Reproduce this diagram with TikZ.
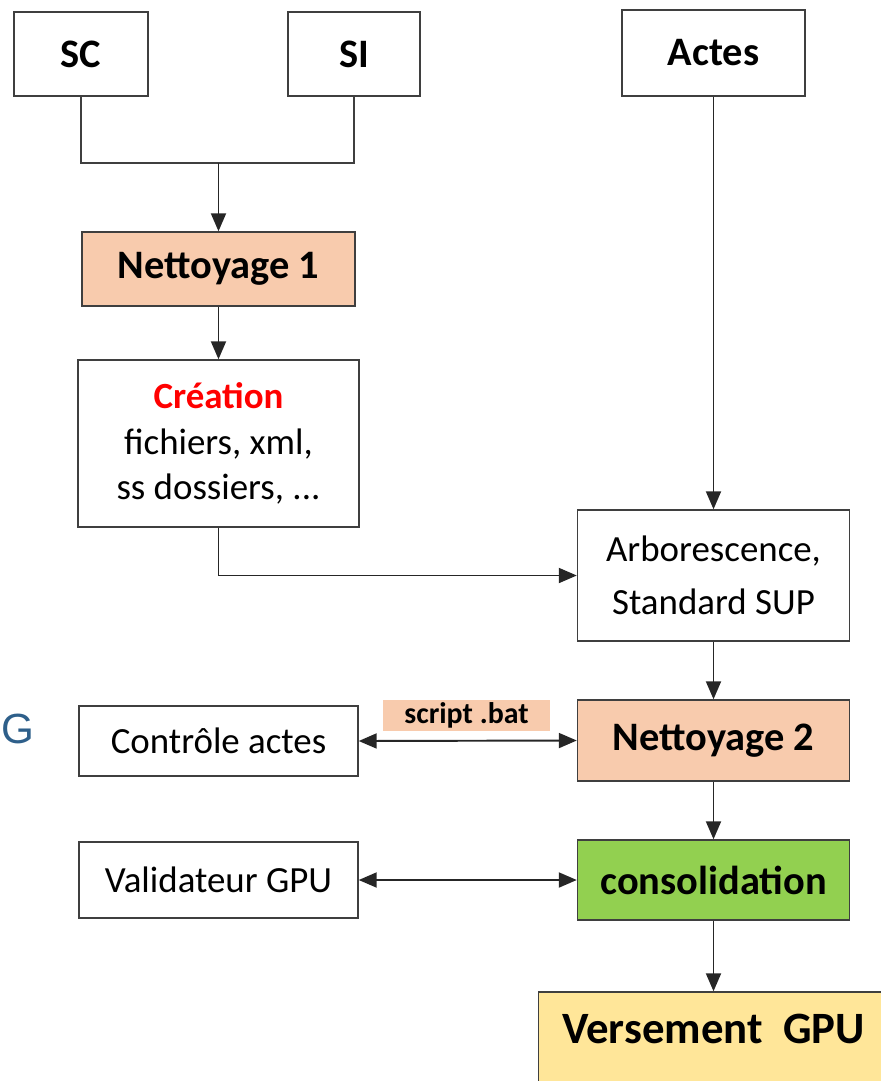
\documentclass[tikz,border=0pt]{standalone}
\usepackage{fontspec}
\setmainfont{Carlito}
\newfontfamily\gfont{Liberation Sans}
\usetikzlibrary{positioning, arrows.meta}

\definecolor{peach}{HTML}{F8CBAD}
\definecolor{leafgreen}{HTML}{92D050}
\definecolor{paleyellow}{HTML}{FFE699}
\definecolor{edgegray}{HTML}{3F3F3F}
\definecolor{wiregray}{HTML}{262626}
\definecolor{slateblue}{HTML}{2E5F8A}

\begin{document}
\begin{tikzpicture}
    [
        on grid,
        node distance=2cm and 2cm,
        block/.style={draw=edgegray, rectangle, line width=0.8pt, align=center, inner sep=0pt, font=\fontsize{21}{30}\selectfont},
        title/.style={block, font=\fontsize{23}{28}\selectfont\bfseries},
        link/.style={draw=wiregray, line width=1.1pt},
        flow/.style={link, -{Triangle[length=0.36cm, width=0.3cm]}},
        twoway/.style={link, {Triangle[length=0.36cm, width=0.3cm]}-{Triangle[length=0.36cm, width=0.3cm]}}
    ]
        \useasboundingbox (0,0) rectangle (17.62,-21.62);
        % =========================================================================
        % NODES
        % =========================================================================
        % --- Sources ---
        \node [title, minimum width=2.68cm, minimum height=1.68cm] (sc) at (1.62,-1.08) {SC};
        \node [title, minimum width=2.64cm, minimum height=1.68cm, right=5.46cm of sc] (si) {SI};
        \node [title, minimum width=3.66cm, minimum height=1.72cm] (actes) at (14.27,-1.06) {Actes};

        % --- Left column ---
        \node [title, fill=peach, minimum width=5.46cm, minimum height=1.48cm] (nett1) at (4.37,-5.38) {Nettoyage 1};
        \coordinate [above=2.12cm of nett1] (merge);
        \node [block, minimum width=5.62cm, minimum height=3.34cm, below=3.49cm of nett1, font=\fontsize{21}{26}\selectfont] (creation)
            {{\bfseries\color{red}Création}\\fichiers, xml,\\ss dossiers, ...};
        \node [block, minimum width=5.58cm, minimum height=1.40cm, below=5.95cm of creation] (controle) {Contrôle actes};
        \node [block, minimum width=5.58cm, minimum height=1.52cm, below=2.78cm of controle] (validateur) {Validateur GPU};

        % --- Right column ---
        \node [block, minimum width=5.44cm, minimum height=2.62cm, below=10.45cm of actes] (arbo) {Arborescence,\\Standard SUP};
        \node [title, fill=peach, minimum width=5.44cm, minimum height=1.62cm, below=3.30cm of arbo] (nett2) {Nettoyage 2};
        \node [title, fill=leafgreen, minimum width=5.44cm, minimum height=1.60cm, below=2.79cm of nett2] (conso) {consolidation};
        \node [title, fill=paleyellow, minimum width=7.0cm, text height=1.02cm, text depth=1.14cm, below=3.32cm of conso,
            font=\fontsize{25.5}{30}\selectfont\bfseries] (versement) {Versement\ \ GPU};

        % --- Labels ---
        \node [fill=peach, inner sep=0pt, minimum width=3.34cm, minimum height=0.62cm, font=\fontsize{17}{20}\selectfont\bfseries] (script) at (9.33,-14.31) {script .bat};
        \node [anchor=west, inner sep=0pt, text=slateblue, font=\gfont\fontsize{24}{28}\selectfont] (gmark) at (0.02,-14.58) {G};

        % =========================================================================
        % PATHS
        % =========================================================================
        \draw [link, draw=edgegray, line width=0.9pt] (sc.south) |- (merge) -| (si.south);
        \draw [flow] (merge) -- (nett1.north);
        \draw [flow] (nett1) -- (creation);
        \draw [flow] (actes) -- (arbo);
        \draw [flow] (creation.south) |- (arbo.west);
        \draw [flow] (arbo) -- (nett2);
        \draw [twoway] (controle.east) -- (nett2.west);
        \draw [flow] (nett2) -- (conso);
        \draw [twoway] (validateur.east) -- (conso.west);
        \draw [flow] (conso) -- (versement);

    \end{tikzpicture}
\end{document}
